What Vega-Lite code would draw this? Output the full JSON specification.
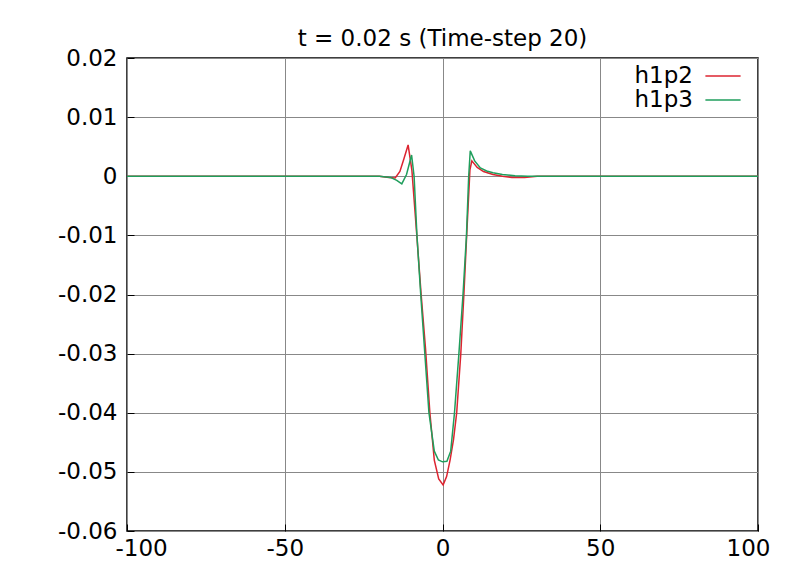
{
  "$schema": "https://vega.github.io/schema/vega-lite/v6.json",
  "width": 631,
  "height": 473,
  "autosize": {"type": "none"},
  "padding": {"left": 127, "top": 58, "right": 47, "bottom": 48},
  "background": "white",
  "title": {
    "text": "t = 0.02 s (Time-step 20)",
    "font": "DejaVu Sans",
    "fontSize": 23,
    "fontWeight": "normal",
    "color": "#000",
    "anchor": "middle",
    "baseline": "alphabetic",
    "offset": -22
  },
  "config": {
    "view": {"stroke": "#000", "strokeWidth": 1.5},
    "axis": {
      "labelFont": "DejaVu Sans",
      "labelFontSize": 23,
      "labelColor": "#000",
      "domain": false,
      "grid": true,
      "gridColor": "#888",
      "gridWidth": 1,
      "gridOpacity": 1,
      "ticks": true,
      "tickColor": "#000",
      "tickSize": -7,
      "tickWidth": 1,
      "title": null
    }
  },
  "data": {
    "values": [
      {"x": -100, "y": 0, "series": "h1p2"},
      {"x": -30, "y": 0, "series": "h1p2"},
      {"x": -20, "y": 0, "series": "h1p2"},
      {"x": -17, "y": -0.0002, "series": "h1p2"},
      {"x": -15, "y": -0.0003, "series": "h1p2"},
      {"x": -13.5, "y": 0.0008, "series": "h1p2"},
      {"x": -12.2, "y": 0.003, "series": "h1p2"},
      {"x": -10.9, "y": 0.0053, "series": "h1p2"},
      {"x": -9.7, "y": 0.001, "series": "h1p2"},
      {"x": -8.2, "y": -0.0096, "series": "h1p2"},
      {"x": -6.8, "y": -0.0198, "series": "h1p2"},
      {"x": -5.4, "y": -0.029, "series": "h1p2"},
      {"x": -4.0, "y": -0.04, "series": "h1p2"},
      {"x": -2.6, "y": -0.048, "series": "h1p2"},
      {"x": -1.2, "y": -0.0512, "series": "h1p2"},
      {"x": 0.2, "y": -0.0522, "series": "h1p2"},
      {"x": 1.3, "y": -0.0508, "series": "h1p2"},
      {"x": 2.4, "y": -0.048, "series": "h1p2"},
      {"x": 3.5, "y": -0.0445, "series": "h1p2"},
      {"x": 4.5, "y": -0.04, "series": "h1p2"},
      {"x": 5.8, "y": -0.03, "series": "h1p2"},
      {"x": 6.8, "y": -0.0198, "series": "h1p2"},
      {"x": 7.7, "y": -0.0096, "series": "h1p2"},
      {"x": 8.7, "y": 0.0011, "series": "h1p2"},
      {"x": 9.3, "y": 0.0026, "series": "h1p2"},
      {"x": 11, "y": 0.0015, "series": "h1p2"},
      {"x": 13, "y": 0.0008, "series": "h1p2"},
      {"x": 16, "y": 0.0003, "series": "h1p2"},
      {"x": 19, "y": 0.0, "series": "h1p2"},
      {"x": 22, "y": -0.0002, "series": "h1p2"},
      {"x": 26, "y": -0.0002, "series": "h1p2"},
      {"x": 30, "y": 0, "series": "h1p2"},
      {"x": 100, "y": 0, "series": "h1p2"},
      {"x": -100, "y": 0, "series": "h1p3"},
      {"x": -20, "y": 0, "series": "h1p3"},
      {"x": -16.5, "y": -0.0002, "series": "h1p3"},
      {"x": -14.5, "y": -0.0007, "series": "h1p3"},
      {"x": -12.9, "y": -0.0013, "series": "h1p3"},
      {"x": -11.4, "y": 0.0003, "series": "h1p3"},
      {"x": -9.8, "y": 0.0036, "series": "h1p3"},
      {"x": -9.0, "y": 0.0, "series": "h1p3"},
      {"x": -8.1, "y": -0.01, "series": "h1p3"},
      {"x": -6.9, "y": -0.02, "series": "h1p3"},
      {"x": -5.6, "y": -0.03, "series": "h1p3"},
      {"x": -4.3, "y": -0.04, "series": "h1p3"},
      {"x": -2.6, "y": -0.0465, "series": "h1p3"},
      {"x": -1.3, "y": -0.048, "series": "h1p3"},
      {"x": 0, "y": -0.0483, "series": "h1p3"},
      {"x": 1.4, "y": -0.0482, "series": "h1p3"},
      {"x": 2.6, "y": -0.0465, "series": "h1p3"},
      {"x": 3.8, "y": -0.04, "series": "h1p3"},
      {"x": 5.2, "y": -0.03, "series": "h1p3"},
      {"x": 6.5, "y": -0.02, "series": "h1p3"},
      {"x": 7.6, "y": -0.01, "series": "h1p3"},
      {"x": 8.3, "y": 0.0, "series": "h1p3"},
      {"x": 8.8, "y": 0.0043, "series": "h1p3"},
      {"x": 10.2, "y": 0.0026, "series": "h1p3"},
      {"x": 12, "y": 0.0014, "series": "h1p3"},
      {"x": 14, "y": 0.0009, "series": "h1p3"},
      {"x": 16, "y": 0.0006, "series": "h1p3"},
      {"x": 19, "y": 0.0003, "series": "h1p3"},
      {"x": 23, "y": 0.0001, "series": "h1p3"},
      {"x": 27, "y": 0, "series": "h1p3"},
      {"x": 100, "y": 0, "series": "h1p3"}
    ]
  },
  "mark": {"type": "line", "strokeWidth": 1.5, "clip": true},
  "encoding": {
    "x": {
      "field": "x",
      "type": "quantitative",
      "scale": {"domain": [-100, 100], "nice": false, "zero": false},
      "axis": {
        "values": [-100, -50, 0, 50, 100],
        "labelExpr": "'' + datum.value",
        "labelPadding": 13,
        "labelFlush": true,
        "labelFlushOffset": 12
      }
    },
    "y": {
      "field": "y",
      "type": "quantitative",
      "scale": {"domain": [-0.06, 0.02], "nice": false, "zero": false},
      "axis": {
        "values": [-0.06, -0.05, -0.04, -0.03, -0.02, -0.01, 0, 0.01, 0.02],
        "labelExpr": "'' + datum.value",
        "labelPadding": 17
      }
    },
    "color": {
      "field": "series",
      "type": "nominal",
      "scale": {"domain": ["h1p2", "h1p3"], "range": ["#dc2430", "#1f9e5c"]},
      "legend": {
        "title": null,
        "orient": "none",
        "legendX": 584,
        "legendY": 6,
        "padding": 0,
        "symbolType": "M-1.6,0H1.6",
        "symbolSize": 484,
        "symbolStrokeWidth": 1.5,
        "symbolFillColor": "transparent",
        "labelAlign": "right",
        "labelOffset": -42,
        "labelFont": "DejaVu Sans",
        "labelFontSize": 23,
        "labelColor": "#000",
        "rowPadding": 0
      }
    }
  }
}
